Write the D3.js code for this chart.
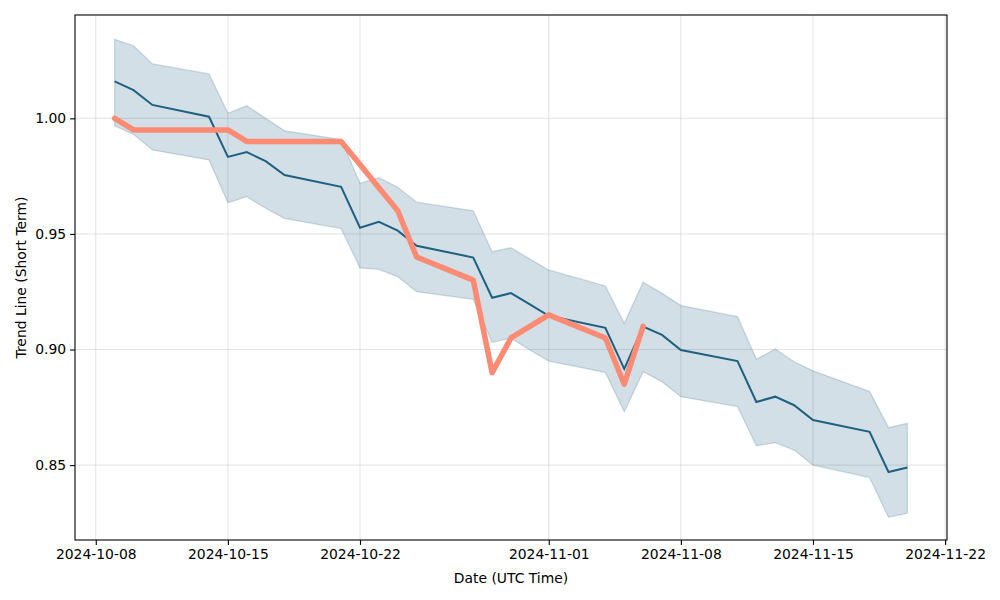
<!DOCTYPE html>
<html>
<head>
<meta charset="utf-8">
<script src="https://cdn.jsdelivr.net/npm/d3@7"></script>
<style>
  html, body { margin: 0; padding: 0; background: #fff; }
  svg { display: block; font-family: "DejaVu Sans", sans-serif; }
</style>
</head>
<body>
<svg id="chart" width="1000" height="600"></svg>
<script>
// ---- data ----
const dates = ["2024-10-09","2024-10-10","2024-10-11","2024-10-14","2024-10-15","2024-10-16","2024-10-17","2024-10-18",
  "2024-10-21","2024-10-22","2024-10-23","2024-10-24","2024-10-25","2024-10-28","2024-10-29","2024-10-30","2024-10-31",
  "2024-11-01","2024-11-04","2024-11-05","2024-11-06","2024-11-07","2024-11-08","2024-11-11","2024-11-12","2024-11-13",
  "2024-11-14","2024-11-15","2024-11-18","2024-11-19","2024-11-20"];
const trendMean = [1.0160,1.0122,1.0058,1.0007,0.9833,0.9854,0.9815,0.9755,
  0.9704,0.9527,0.9552,0.9514,0.9449,0.9398,0.9224,0.9244,0.9195,
  0.9146,0.9094,0.8916,0.9099,0.9063,0.8998,0.8950,0.8773,0.8796,
  0.8759,0.8695,0.8644,0.8470,0.8490];
const trendUpper = [1.0342,1.0314,1.0235,1.0192,1.0022,1.0054,1.0000,0.9946,
  0.9908,0.9719,0.9743,0.9702,0.9637,0.9600,0.9423,0.9440,0.9391,
  0.9344,0.9275,0.9113,0.9291,0.9243,0.9190,0.9142,0.8958,0.9002,
  0.8947,0.8908,0.8818,0.8662,0.8681];
const trendLower = [0.9968,0.9931,0.9863,0.9820,0.9635,0.9661,0.9611,0.9567,
  0.9523,0.9353,0.9347,0.9315,0.9250,0.9217,0.9031,0.9049,0.8998,
  0.8950,0.8901,0.8731,0.8904,0.8861,0.8796,0.8753,0.8584,0.8597,
  0.8565,0.8500,0.8446,0.8274,0.8292];
const actualDates = ["2024-10-09","2024-10-10","2024-10-11","2024-10-14","2024-10-15","2024-10-16","2024-10-17","2024-10-18",
  "2024-10-21","2024-10-22","2024-10-23","2024-10-24","2024-10-25","2024-10-28","2024-10-29","2024-10-30","2024-10-31",
  "2024-11-01","2024-11-04","2024-11-05","2024-11-06"];
const actualValues = [1.000,0.995,0.995,0.995,0.995,0.990,0.990,0.990,
  0.990,0.980,0.970,0.960,0.940,0.930,0.890,0.905,0.910,
  0.915,0.905,0.885,0.910];
const xTickLabels = ["2024-10-08","2024-10-15","2024-10-22","2024-11-01","2024-11-08","2024-11-15","2024-11-22"];
const yTickValues = [0.85, 0.90, 0.95, 1.00];

// ---- layout ----
const svg = d3.select("#chart");
const pL = 75, pR = 947, pT = 15, pB = 540;
const parse = d3.utcParse("%Y-%m-%d");
const fmt = d3.utcFormat("%Y-%m-%d");

const d0 = parse(dates[0]), d1 = parse(dates[dates.length - 1]);
const span = d1 - d0;
const x = d3.scaleUtc()
  .domain([new Date(+d0 - span * 0.05), new Date(+d1 + span * 0.05)])
  .range([pL, pR]);
const y = d3.scaleLinear().domain([0.8176, 1.0447]).range([pB, pT]);

const pts = dates.map((d, i) => ({ d: parse(d), m: trendMean[i], u: trendUpper[i], l: trendLower[i] }));
const act = actualDates.map((d, i) => ({ d: parse(d), v: actualValues[i] }));
const xTicks = xTickLabels.map(parse);

// grid
const grid = svg.append("g");
grid.selectAll(".vg").data(xTicks).join("line")
  .attr("x1", d => x(d)).attr("x2", d => x(d)).attr("y1", pT).attr("y2", pB)
  .attr("stroke", "#b0b0b0").attr("stroke-opacity", 0.35).attr("stroke-width", 1);
grid.selectAll(".hg").data(yTickValues).join("line")
  .attr("x1", pL).attr("x2", pR).attr("y1", d => y(d)).attr("y2", d => y(d))
  .attr("stroke", "#b0b0b0").attr("stroke-opacity", 0.35).attr("stroke-width", 1);

// band
const band = d3.area().x(d => x(d.d)).y0(d => y(d.l)).y1(d => y(d.u));
svg.append("path").datum(pts).attr("d", band)
  .attr("fill", "#1f5f80").attr("fill-opacity", 0.2)
  .attr("stroke", "#1f5f80").attr("stroke-opacity", 0.2).attr("stroke-width", 1.3);

// mean line
svg.append("path").datum(pts)
  .attr("d", d3.line().x(d => x(d.d)).y(d => y(d.m)))
  .attr("fill", "none").attr("stroke", "#1f5f80").attr("stroke-width", 2)
  .attr("stroke-linejoin", "miter");

// actual line
svg.append("path").datum(act)
  .attr("d", d3.line().x(d => x(d.d)).y(d => y(d.v)))
  .attr("fill", "none").attr("stroke", "#fd8a72").attr("stroke-width", 5.5)
  .attr("stroke-linejoin", "round").attr("stroke-linecap", "round");

// axes
const xAxis = d3.axisBottom(x).tickValues(xTicks).tickFormat(fmt).tickSizeOuter(0).tickSize(4.9).tickPadding(4);
const gx = svg.append("g").attr("transform", `translate(0,${pB})`).call(xAxis);
const yAxis = d3.axisLeft(y).tickValues(yTickValues).tickFormat(d3.format(".2f")).tickSizeOuter(0).tickSize(4.9).tickPadding(4);
const gy = svg.append("g").attr("transform", `translate(${pL},0)`).call(yAxis);
[gx, gy].forEach(g => {
  g.select(".domain").remove();
  g.selectAll(".tick line").attr("stroke", "#000").attr("stroke-width", 1.1);
  g.selectAll(".tick text").attr("fill", "#000").style("font-size", "13.9px").style("font-family", "DejaVu Sans");
});

// frame
svg.append("rect").attr("x", pL).attr("y", pT).attr("width", pR - pL).attr("height", pB - pT)
  .attr("fill", "none").attr("stroke", "#000").attr("stroke-width", 1.1);

// labels
svg.append("text").attr("x", (pL + pR) / 2).attr("y", 583).attr("text-anchor", "middle")
  .style("font-size", "13.9px").text("Date (UTC Time)");
svg.append("text").attr("transform", `translate(26,${(pT + pB) / 2}) rotate(-90)`)
  .attr("text-anchor", "middle").style("font-size", "13.9px").text("Trend Line (Short Term)");
</script>
</body>
</html>
